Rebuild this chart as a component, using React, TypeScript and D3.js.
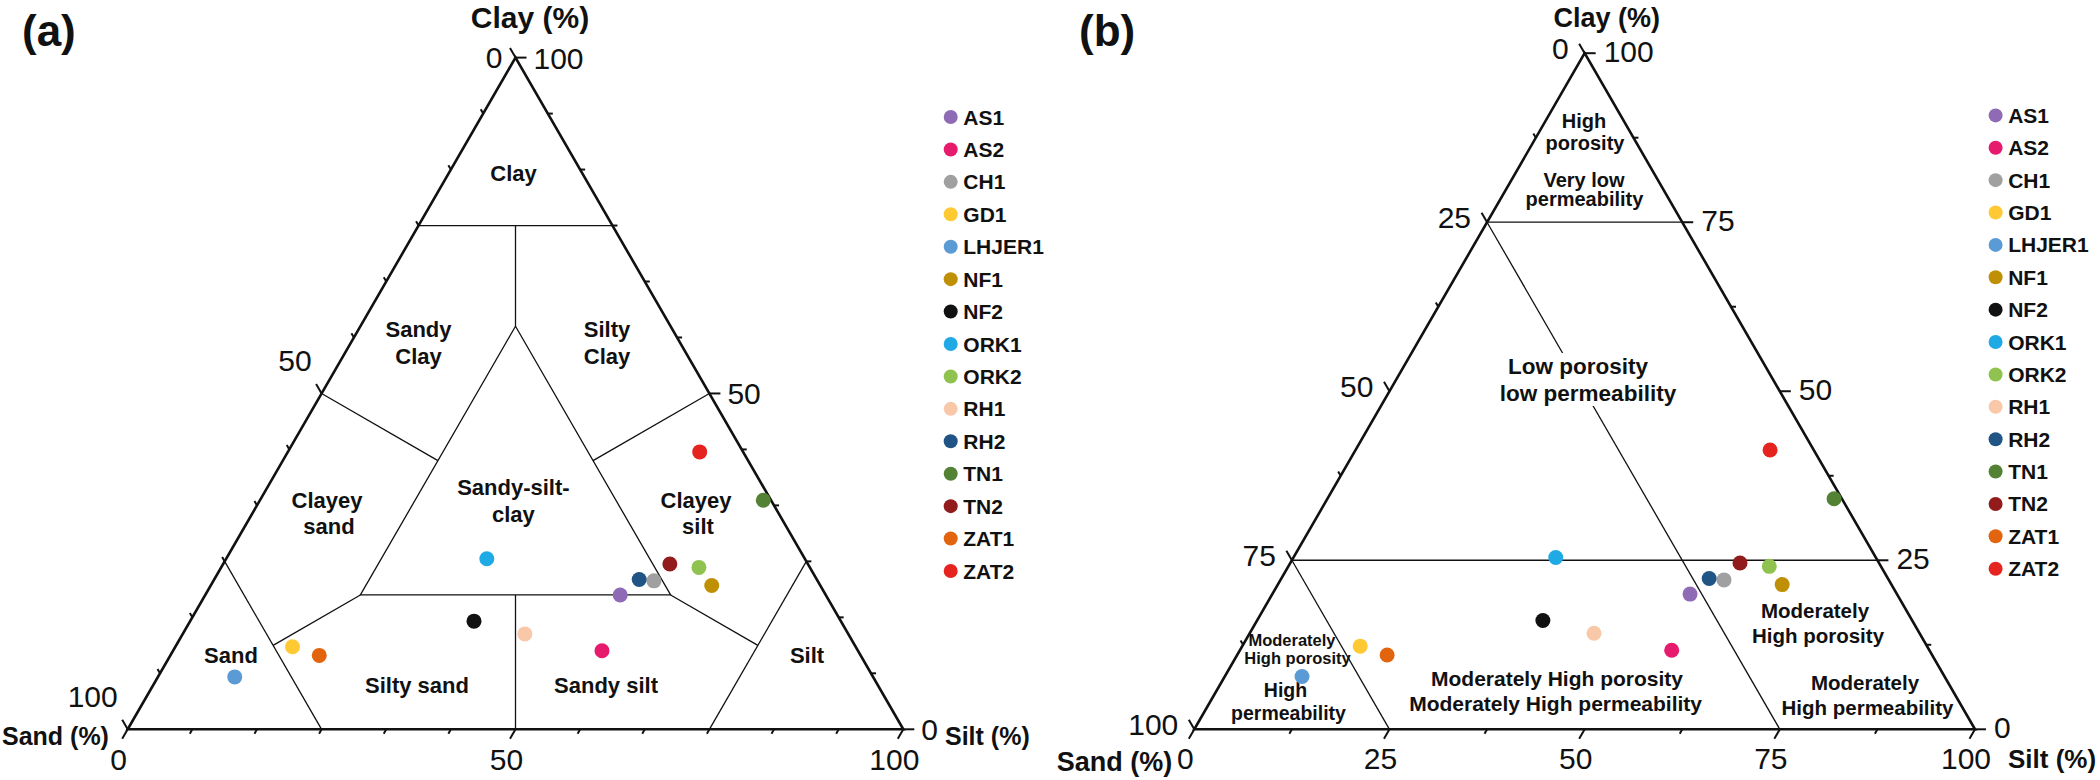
import { useEffect, useRef } from 'react'
import * as d3 from 'd3'

// Grain-size composition of each sample (%), sand = 100 - silt - clay
const samples = ['AS1', 'AS2', 'CH1', 'GD1', 'LHJER1', 'NF1', 'NF2', 'ORK1', 'ORK2', 'RH1', 'RH2', 'TN1', 'TN2', 'ZAT1', 'ZAT2']
const sand = [26.5, 33.0, 21.1, 72.6, 82.3, 14.0, 47.3, 41.0, 14.3, 41.7, 22.9, 1.0, 17.8, 69.8, 5.6]
const silt = [53.5, 55.3, 56.8, 15.1, 9.9, 64.6, 36.6, 33.6, 61.6, 44.1, 54.8, 64.9, 57.6, 19.2, 53.1]
const clay = [20.0, 11.7, 22.1, 12.3, 7.8, 21.4, 16.1, 25.4, 24.1, 14.2, 22.3, 34.1, 24.6, 11.0, 41.3]
const colors = ['#8e6bb4', '#e61b6e', '#a0a0a0', '#ffc933', '#5b9bd5', '#bf9005', '#111111', '#1faae6', '#8fc24f', '#f8c8a8', '#1f5485', '#548235', '#921b1b', '#e2640f', '#e5231f']

// Class boundaries, each point given as [sand, silt, clay]
const textureBoundaries = [
  [[25, 0, 75], [0, 25, 75]],
  [[12.5, 12.5, 75], [20, 20, 60]],
  [[20, 20, 60], [60, 20, 20], [20, 60, 20], [20, 20, 60]],
  [[50, 0, 50], [40, 20, 40]],
  [[0, 50, 50], [20, 40, 40]],
  [[75, 0, 25], [75, 25, 0]],
  [[60, 20, 20], [75, 12.5, 12.5]],
  [[0, 75, 25], [25, 75, 0]],
  [[20, 60, 20], [12.5, 75, 12.5]],
  [[40, 40, 20], [50, 50, 0]],
]
const porosityBoundaries = [
  [[25, 0, 75], [0, 25, 75]],
  [[75, 0, 25], [0, 75, 25]],
  [[25, 0, 75], [25, 75, 0]],
  [[75, 0, 25], [75, 25, 0]],
]

const textureClasses = ['Clay', 'Sandy', 'Clay', 'Silty', 'Clay', 'Clayey', 'sand', 'Sandy-silt-', 'clay', 'Clayey', 'silt', 'Sand', 'Silty sand', 'Sandy silt', 'Silt']
const porosityClasses = [
  'High', 'porosity', 'Very low', 'permeability',
  'Low porosity', 'low permeability',
  'Moderately', 'High porosity', 'Moderately', 'High permeability',
  'Moderately High porosity', 'Moderately High permeability',
  'Moderately', 'High porosity', 'High', 'permeability',
]

const FONT = '"Liberation Sans", Arial, Helvetica, sans-serif'

type Sel = d3.Selection<SVGGElement, unknown, null, undefined>

interface PanelConfig {
  tag: string
  tagX: number
  left: number
  right: number
  base: number
  ticks: number
  major: number
  boundaries: number[][][]
  classes: string[]
  classPos: [number, number, number][]
  titles: { text: string; x: number; y: number; size: number; anchor: string }[]
  legendX: number
  legendY: [number, number]
  leftLabel: (x: number, y: number, v: number) => [number, number]
  rightLabel: (x: number, y: number) => [number, number]
  bottomLabel: (x: number, y: number) => [number, number]
  gap?: [number, number, number, number]
}

function text(g: Sel, s: string, x: number, y: number, size: number, weight = 'normal', anchor = 'middle') {
  g.append('text')
    .attr('x', x)
    .attr('y', y)
    .attr('font-family', FONT)
    .attr('font-size', size)
    .attr('font-weight', weight)
    .attr('text-anchor', anchor)
    .attr('fill', '#111')
    .text(s)
}

function drawPanel(root: d3.Selection<SVGSVGElement, unknown, null, undefined>, cfg: PanelConfig) {
  const g = root.append('g') as unknown as Sel
  const side = cfg.right - cfg.left
  const x = d3.scaleLinear().domain([0, 100]).range([cfg.left, cfg.right])
  const y = d3.scaleLinear().domain([0, 100]).range([cfg.base, cfg.base - (side * Math.sqrt(3)) / 2])
  const project = (si: number, cl: number): [number, number] => [x(si + cl / 2), y(cl)]
  const line = d3.line<number[]>().x((p) => project(p[1], p[2])[0]).y((p) => project(p[1], p[2])[1])

  // class boundaries
  cfg.boundaries.forEach((b) => {
    g.append('path').attr('d', line(b)).attr('fill', 'none').attr('stroke', '#111').attr('stroke-width', 1.3)
  })

  if (cfg.gap) {
    const [gx, gy, gw, gh] = cfg.gap
    g.append('rect').attr('x', gx).attr('y', gy).attr('width', gw).attr('height', gh).attr('fill', '#fff')
  }

  // outline
  g.append('path')
    .attr('d', line([[100, 0, 0], [0, 100, 0], [0, 0, 100], [100, 0, 0]]) + 'Z')
    .attr('fill', 'none')
    .attr('stroke', '#111')
    .attr('stroke-width', 2.6)
    .attr('stroke-linejoin', 'miter')

  // ticks and numbers on the three axes
  const step = 100 / cfg.ticks
  const c = Math.sqrt(3) / 2
  d3.range(cfg.ticks + 1).forEach((i) => {
    const v = i * step
    const isMajor = i % cfg.major === 0
    const len = isMajor ? 11 : 5
    const tick = (x1: number, y1: number, x2: number, y2: number) =>
      g.append('line').attr('x1', x1).attr('y1', y1).attr('x2', x2).attr('y2', y2).attr('stroke', '#111').attr('stroke-width', 2)

    const [bx, by] = project(v, 0)
    tick(bx, by, bx - 0.5 * len, by + c * len)
    const [lx, ly] = project(0, 100 - v)
    tick(lx, ly, lx - 0.5 * len, ly - c * len)
    const [rx, ry] = project(100 - v, v)
    tick(rx, ry, rx + len, ry)

    if (isMajor) {
      const label = d3.format('d')(v)
      const [btx, bty] = cfg.bottomLabel(bx, by)
      text(g, label, btx, bty, 30)
      const [ltx, lty] = cfg.leftLabel(lx, ly, v)
      text(g, label, ltx, lty, 30, 'normal', 'end')
      const [rtx, rty] = cfg.rightLabel(rx, ry)
      text(g, label, rtx, rty, 30, 'normal', 'start')
    }
  })

  // axis titles and panel tag
  cfg.titles.forEach((t) => text(g, t.text, t.x, t.y, t.size, 'bold', t.anchor))
  text(g, cfg.tag, cfg.tagX, 46, 44, 'bold', 'start')

  // class names
  cfg.classes.forEach((s, i) => {
    const [px, py, size] = cfg.classPos[i]
    text(g, s, px, py, size, 'bold')
  })

  // samples
  g.selectAll('circle.sample')
    .data(samples)
    .enter()
    .append('circle')
    .attr('class', 'sample')
    .attr('cx', (_d, i) => project(silt[i], clay[i])[0])
    .attr('cy', (_d, i) => project(silt[i], clay[i])[1])
    .attr('r', 7.5)
    .attr('fill', (_d, i) => colors[i])

  // legend
  const ly = d3.scaleLinear().domain([0, samples.length - 1]).range(cfg.legendY)
  samples.forEach((s, i) => {
    g.append('circle').attr('cx', cfg.legendX).attr('cy', ly(i)).attr('r', 7).attr('fill', colors[i])
    text(g, s, cfg.legendX + 12.6, ly(i) + 7.5, 21, 'bold', 'start')
  })
}

const panelA: PanelConfig = {
  tag: '(a)',
  tagX: 22,
  left: 127.7,
  right: 903.3,
  base: 729.3,
  ticks: 12,
  major: 6,
  boundaries: textureBoundaries,
  classes: textureClasses,
  classPos: [
    [513.5, 181, 22], [418.5, 337, 22], [418.5, 363.5, 22], [607, 337, 22], [607, 363.5, 22],
    [327, 507.5, 22], [329, 534, 22], [513.4, 495, 22], [513.4, 521.5, 22], [696, 507.5, 22], [698, 534, 22],
    [231, 663, 22], [417, 693, 22], [606, 693, 22], [807, 663, 22],
  ],
  titles: [
    { text: 'Clay (%)', x: 530, y: 28, size: 30, anchor: 'middle' },
    { text: 'Sand (%)', x: 2, y: 745, size: 25, anchor: 'start' },
    { text: 'Silt (%)', x: 945, y: 745, size: 25, anchor: 'start' },
  ],
  legendX: 950.7,
  legendY: [117, 571],
  leftLabel: (x, y, v) => (v === 0 ? [x - 13, y + 10] : [x - 10, y - 22]),
  rightLabel: (x, y) => [x + 18, y + 11],
  bottomLabel: (x, y) => [x - 9, y + 41],
}

const panelB: PanelConfig = {
  tag: '(b)',
  tagX: 1079,
  left: 1194.3,
  right: 1975,
  base: 729.3,
  ticks: 8,
  major: 2,
  boundaries: porosityBoundaries,
  classes: porosityClasses,
  classPos: [
    [1584, 128, 20], [1585, 149.5, 20], [1584, 186.5, 20], [1584.5, 205.5, 20],
    [1578, 374, 22.5], [1588, 400.5, 22.5],
    [1815, 618.3, 20.5], [1818, 643.3, 20.5], [1865, 690, 20.5], [1867.5, 715, 20.5],
    [1557, 686, 21], [1555.6, 710.7, 21],
    [1292, 646, 16.5], [1297.5, 664.3, 16.5], [1285.5, 697.3, 19.5], [1288.5, 720, 19.5],
  ],
  titles: [
    { text: 'Clay (%)', x: 1606.7, y: 27, size: 27, anchor: 'middle' },
    { text: 'Sand (%)', x: 1056.7, y: 771, size: 27, anchor: 'start' },
    { text: 'Silt (%)', x: 2008, y: 768, size: 26, anchor: 'start' },
  ],
  legendX: 1995.6,
  legendY: [115.4, 568.7],
  leftLabel: (x, y) => [x - 16, y + 6],
  rightLabel: (x, y) => [x + 19, y + 9],
  bottomLabel: (x, y) => [x - 9, y + 40],
  gap: [1500, 353, 176, 53],
}

export default function App() {
  const svgRef = useRef<SVGSVGElement>(null)

  useEffect(() => {
    if (!svgRef.current) return
    const svg = d3.select(svgRef.current)
    svg.selectAll('*').remove()
    drawPanel(svg, panelA)
    drawPanel(svg, panelB)
  }, [])

  return (
    <svg
      ref={svgRef}
      width={2100}
      height={780}
      style={{ position: 'absolute', left: 0, top: 0, background: '#fff', display: 'block' }}
    />
  )
}
